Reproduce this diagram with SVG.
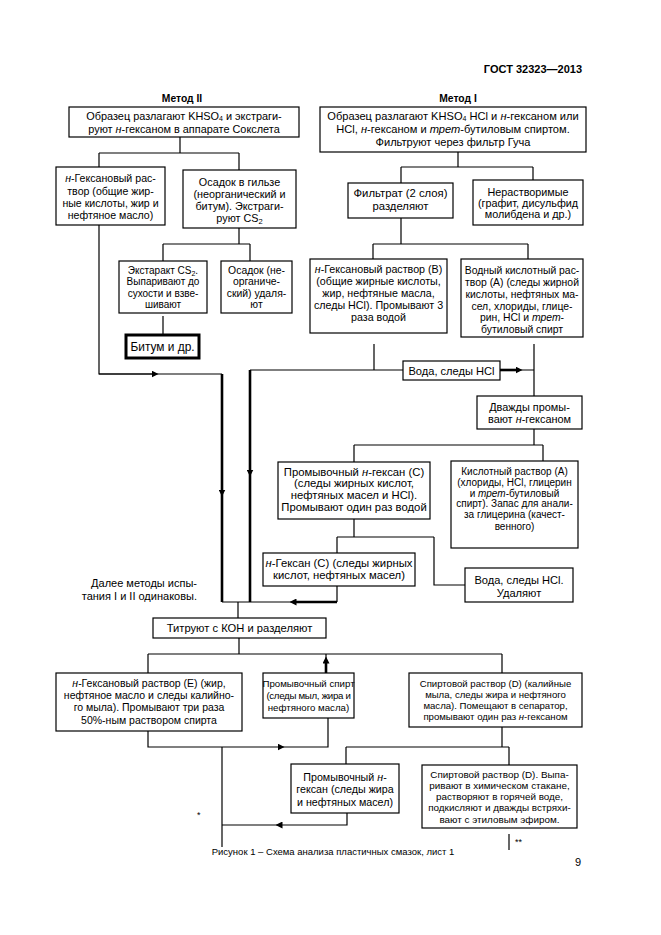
<svg xmlns="http://www.w3.org/2000/svg" width="661" height="935" viewBox="0 0 661 935">
<style>
text{font-family:"Liberation Sans",Arial,sans-serif;fill:#000}
.c{text-anchor:middle}
.h{font-size:10.3px;font-weight:bold;text-anchor:middle}
.b{fill:#fff;stroke:#000;stroke-width:1.2}
.l{fill:none;stroke:#000;stroke-width:1.2}
.k{fill:none;stroke:#000;stroke-width:2.6}
.i{font-style:italic}
</style>
<defs>
<marker id="a" viewBox="0 0 10 10" refX="5" refY="5" markerWidth="7" markerHeight="7" markerUnits="userSpaceOnUse" orient="auto">
<path d="M0,0 L10,5 L0,10 z" fill="#000"/>
</marker>
</defs>
<rect width="661" height="935" fill="#fff"/>
<text x="582" y="73" style="font-size:11px;font-weight:bold;text-anchor:end">ГОСТ 32323—2013</text>
<text class="h" x="182" y="101.5">Метод II</text>
<text class="h" x="458" y="101.5">Метод I</text>

<g id="connectors">
<path class="l" d="M180,137V153M99,153H239M99,153V167M239,153V170"/>
<path class="l" d="M99,225V374H222"/>
<path class="l" d="M99,374H155" marker-end="url(#a)"/>
<path class="k" d="M222,374V493V602" marker-mid="url(#a)"/>
<path class="l" d="M239,228V244M163,244H250M163,244V261M250,244V261M163,316V335"/>
<path class="l" d="M458,152V167M401,167H533M401,167V183M533,167V180"/>
<path class="l" d="M401,218V244M373,244H528M373,244V259M528,244V259"/>
<path class="l" d="M374,344V370M250,370H403M520,370H534M534,344V396"/>
<path class="k" d="M500,370H519" marker-end="url(#a)"/>
<path class="k" d="M250,370V473V602" marker-mid="url(#a)"/>
<path class="l" d="M534,429V445M354,445H543M354,445V462M543,445V461"/>
<path class="l" d="M354,519V537M337,537H434M337,537V553M434,537V585H465"/>
<path class="l" d="M337,586V602M292,602H222M238,602V618"/>
<path class="k" d="M337,602H293" marker-end="url(#a)"/>
<path class="l" d="M239,638V654M148,654H502M148,654V673M502,654V673"/>
<path class="k" d="M326,673V660" marker-end="url(#a)"/>
<path class="l" d="M326,660V654"/>
<path class="l" d="M148,731V747H281" marker-end="url(#a)"/>
<path class="l" d="M280,747H328V718"/>
<path class="l" d="M222,747V847"/>
<path class="l" d="M502,727V747M346,747H509M346,747V764M509,747V765"/>
<path class="l" d="M347,813V825H279" marker-end="url(#a)"/>
<path class="l" d="M280,825H222"/>
<path class="l" d="M509,834V850"/>
</g>

<g id="m2-start" font-size="10.9">
<rect class="b" x="69" y="107" width="230" height="30"/>
<text class="c" x="184" y="119.5">Образец разлагают KHSO<tspan font-size="7" baseline-shift="-1.2">4</tspan> и экстраги-</text>
<text class="c" x="184" y="133">руют <tspan class="i">н</tspan>-гексаном в аппарате Сокслета</text>
</g>
<g id="m2-hex" font-size="10.6">
<rect class="b" x="56" y="167" width="109" height="58"/>
<text class="c" x="110.5" y="182"><tspan class="i">н</tspan>-Гексановый рас-</text>
<text class="c" x="110.5" y="194.5">твор (общие жир-</text>
<text class="c" x="110.5" y="206.5">ные кислоты, жир и</text>
<text class="c" x="110.5" y="219">нефтяное масло)</text>
</g>
<g id="m2-osadok" font-size="10.8">
<rect class="b" x="183" y="170" width="113" height="58"/>
<text class="c" x="239.5" y="185.5">Осадок в гильзе</text>
<text class="c" x="239.5" y="197.5">(неорганический и</text>
<text class="c" x="239.5" y="209.5">битум). Экстраги-</text>
<text class="c" x="239.5" y="221.5">руют CS<tspan font-size="7.5" baseline-shift="-2">2</tspan></text>
</g>
<g id="m2-extract" font-size="10">
<rect class="b" x="119" y="261" width="88" height="52"/>
<text class="c" x="163" y="273.5">Экстаракт CS<tspan font-size="7" baseline-shift="-1.5">2</tspan>.</text>
<text class="c" x="163" y="285">Выпаривают до</text>
<text class="c" x="163" y="296.5">сухости и взве-</text>
<text class="c" x="163" y="308">шивают</text>
</g>
<g id="m2-neorg" font-size="10.4">
<rect class="b" x="221" y="261" width="71" height="52"/>
<text class="c" x="256.5" y="273.5">Осадок (не-</text>
<text class="c" x="256.5" y="285">органиче-</text>
<text class="c" x="256.5" y="296.5">ский) удаля-</text>
<text class="c" x="256.5" y="308">ют</text>
</g>
<g id="m2-bitum" font-size="11.9">
<rect x="126" y="335" width="73" height="23" fill="#fff" stroke="#000" stroke-width="3"/>
<text class="c" x="162.5" y="350.5">Битум и др.</text>
</g>

<g id="m1-start" font-size="11.1">
<rect class="b" x="320" y="107" width="266" height="45"/>
<text class="c" x="453" y="120">Образец разлагают KHSO<tspan font-size="7" baseline-shift="-1.2">4</tspan> HCl и <tspan class="i">н</tspan>-гексаном или</text>
<text class="c" x="453" y="133">HCl, <tspan class="i">н</tspan>-гексаном и <tspan class="i">трет</tspan>-бутиловым спиртом.</text>
<text class="c" x="453" y="145.5">Фильтруют через фильтр Гуча</text>
</g>
<g id="m1-filtrat" font-size="11.3">
<rect class="b" x="348" y="183" width="105" height="35"/>
<text class="c" x="400.5" y="197">Фильтрат (2 слоя)</text>
<text class="c" x="400.5" y="210">разделяют</text>
</g>
<g id="m1-insol" font-size="10.8">
<rect class="b" x="473" y="180" width="110" height="45"/>
<text class="c" x="528" y="195.5">Нерастворимые</text>
<text class="c" x="528" y="206.5">(графит, дисульфид</text>
<text class="c" x="528" y="217.5">молибдена и др.)</text>
</g>
<g id="m1-B" font-size="10.7">
<rect class="b" x="310" y="259" width="137" height="74"/>
<text class="c" x="378.5" y="272.5"><tspan class="i">н</tspan>-Гексановый раствор (В)</text>
<text class="c" x="378.5" y="284.5">(общие жирные кислоты,</text>
<text class="c" x="378.5" y="296.5">жир, нефтяные масла,</text>
<text class="c" x="378.5" y="308.5">следы HCl). Промывают 3</text>
<text class="c" x="378.5" y="320.5">раза водой</text>
</g>
<g id="m1-A" font-size="10.4">
<rect class="b" x="461" y="259" width="122" height="78"/>
<text class="c" x="522" y="273.5">Водный кислотный рас-</text>
<text class="c" x="522" y="285.5">твор (А) (следы жирной</text>
<text class="c" x="522" y="297.5">кислоты, нефтяных ма-</text>
<text class="c" x="522" y="309.5">сел, хлориды, глице-</text>
<text class="c" x="522" y="321">рин, HCl и <tspan class="i">трет</tspan>-</text>
<text class="c" x="522" y="332.5">бутиловый спирт</text>
</g>
<g id="m1-water" font-size="11.1">
<rect class="b" x="403" y="361" width="97" height="19"/>
<text class="c" x="451.5" y="374.5">Вода, следы HCl</text>
</g>
<g id="m1-twice" font-size="10.9">
<rect class="b" x="477" y="396" width="105" height="33"/>
<text class="c" x="529.5" y="411">Дважды промы-</text>
<text class="c" x="529.5" y="423">вают <tspan class="i">н</tspan>-гексаном</text>
</g>
<g id="m1-washC" font-size="11.3">
<rect class="b" x="278" y="462" width="152" height="57"/>
<text class="c" x="354" y="475.5">Промывочный <tspan class="i">н</tspan>-гексан (С)</text>
<text class="c" x="354" y="487">(следы жирных кислот,</text>
<text class="c" x="354" y="499">нефтяных масел и HCl).</text>
<text class="c" x="354" y="510.5">Промывают один раз водой</text>
</g>
<g id="m1-acidA" font-size="10">
<rect class="b" x="451" y="461" width="127" height="87"/>
<text class="c" x="514.5" y="474.5">Кислотный раствор (А)</text>
<text class="c" x="514.5" y="485.5">(хлориды, HCl, глицерин</text>
<text class="c" x="514.5" y="496.5">и <tspan class="i">трет</tspan>-бутиловый</text>
<text class="c" x="514.5" y="507">спирт). Запас для анали-</text>
<text class="c" x="514.5" y="518">за глицерина (качест-</text>
<text class="c" x="514.5" y="529.5">венного)</text>
</g>
<g id="m1-hexC" font-size="11.3">
<rect class="b" x="263" y="553" width="152" height="33"/>
<text class="c" x="339" y="566.5"><tspan class="i">н</tspan>-Гексан (С) (следы жирных</text>
<text class="c" x="339" y="579">кислот, нефтяных масел)</text>
</g>
<g id="m1-waterdel" font-size="11.1">
<rect class="b" x="465" y="568" width="108" height="34"/>
<text class="c" x="519" y="584">Вода, следы HCl.</text>
<text class="c" x="519" y="596.5">Удаляют</text>
</g>

<text x="197" y="587" style="font-size:11px;text-anchor:end">Далее методы испы-</text>
<text x="197" y="599.5" style="font-size:11px;text-anchor:end">тания I и II одинаковы.</text>

<g id="titr" font-size="11.2">
<rect class="b" x="153" y="618" width="173" height="20"/>
<text class="c" x="239.5" y="632">Титруют с КОН и разделяют</text>
</g>
<g id="hexE" font-size="10.5">
<rect class="b" x="56" y="673" width="186" height="58"/>
<text class="c" x="149" y="687"><tspan class="i">н</tspan>-Гексановый раствор (Е) (жир,</text>
<text class="c" x="149" y="699">нефтяное масло и следы калийно-</text>
<text class="c" x="149" y="711">го мыла). Промывают три раза</text>
<text class="c" x="149" y="723.5">50%-ным раствором спирта</text>
</g>
<g id="washspirit" font-size="9.7">
<rect class="b" x="263" y="673" width="91" height="45"/>
<text class="c" x="308.5" y="687">Промывочный спирт</text>
<text class="c" x="308.5" y="699" letter-spacing="-0.3">(следы мыл, жира и</text>
<text class="c" x="308.5" y="710.5">нефтяного масла)</text>
</g>
<g id="spiritD" font-size="9.6">
<rect class="b" x="409" y="673" width="173" height="54"/>
<text class="c" x="495.5" y="686.5">Спиртовой раствор (D) (калийные</text>
<text class="c" x="495.5" y="697.5">мыла, следы жира и нефтяного</text>
<text class="c" x="495.5" y="708.5">масла). Помещают в сепаратор,</text>
<text class="c" x="495.5" y="720">промывают один раз <tspan class="i">н</tspan>-гексаном</text>
</g>
<g id="washhex" font-size="10.7">
<rect class="b" x="291" y="764" width="108" height="49"/>
<text class="c" x="345" y="780.5">Промывочный <tspan class="i">н</tspan>-</text>
<text class="c" x="345" y="793">гексан (следы жира</text>
<text class="c" x="345" y="805.5">и нефтяных масел)</text>
</g>
<g id="spiritD2" font-size="9.9">
<rect class="b" x="422" y="765" width="155" height="63"/>
<text class="c" x="499.5" y="777.5">Спиртовой раствор (D). Выпа-</text>
<text class="c" x="499.5" y="788.5">ривают в химическом стакане,</text>
<text class="c" x="499.5" y="800">растворяют в горячей воде,</text>
<text class="c" x="499.5" y="811">подкисляют и дважды встряхи-</text>
<text class="c" x="499.5" y="822.5">вают с этиловым эфиром.</text>
</g>

<text x="197" y="818" style="font-size:9px">*</text>
<text x="515" y="845" style="font-size:9px">**</text>
<text x="333" y="855" style="font-size:9.5px;text-anchor:middle">Рисунок 1 – Схема анализа пластичных смазок, лист 1</text>
<text x="578" y="866" style="font-size:11px;text-anchor:middle">9</text>
</svg>
